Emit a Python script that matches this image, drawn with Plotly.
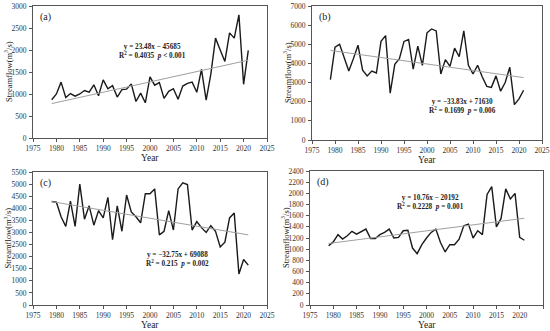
import plotly.graph_objects as go

years = list(range(1979, 2022))

flow_a = [870, 1000, 1270, 920, 1010, 950, 1000, 1080, 1040, 1210, 960, 1320, 1120, 1190, 930,
          1100, 1110, 1230, 830, 1020, 800, 1390, 1200, 1260, 900, 1060, 1120, 880, 1180, 1240,
          1270, 1040, 1560, 860, 1450, 2270, 2000, 1740, 2390, 2270, 2800, 1220, 1990]
flow_b = [3150, 4850, 5000, 4250, 3600, 4250, 4950, 3650, 3350, 3600, 3500, 5150, 5450, 2450, 3950,
          4250, 5150, 5250, 3700, 4900, 3900, 5600, 5800, 5700, 3450, 4200, 3850, 4800, 4350, 5700,
          3900, 3450, 3900, 3300, 2800, 2750, 3350, 2550, 3000, 3800, 1850, 2150, 2600]
flow_c = [4280, 4250, 3650, 3250, 4300, 3250, 5000, 3550, 4100, 3300, 3900, 3600, 4450, 2700, 4100,
          3050, 4550, 3850, 3650, 3400, 4600, 4600, 4800, 2900, 3050, 3900, 3100, 4800, 5050, 4980,
          3100, 3450, 3200, 3000, 3280, 3050, 2400, 2600, 3600, 3800, 1280, 1880, 1650]
flow_d = [1060, 1130, 1260, 1180, 1240, 1320, 1270, 1320, 1360, 1190, 1190, 1260, 1300, 1360, 1200,
          1210, 1330, 1340, 1020, 920, 1080, 1200, 1300, 1360, 1120, 950, 1080, 1080, 1180, 1420,
          1450, 1200, 1330, 1260, 1980, 2120, 1400, 1550, 2080, 1900, 2000, 1210, 1160]

slopes = [23.48, -33.83, -32.75, 10.76]
intercepts = [-45685, 71630, 69088, -20192]
eq_texts = ["y = 23.48x − 45685", "y = −33.83x + 71630", "y = −32.75x + 69088", "y = 10.76x − 20192"]
r2_texts = ["R<sup>2</sup> = 0.4035  <i>p</i> < 0.001", "R<sup>2</sup> = 0.1699  <i>p</i> = 0.006",
            "R<sup>2</sup> = 0.215  <i>p</i> = 0.002", "R<sup>2</sup> = 0.2228  <i>p</i> = 0.001"]
labels = ["(a)", "(b)", "(c)", "(d)"]
ymax = [3000, 7000, 5500, 2400]
ydtick = [500, 1000, 500, 200]
# annotation centre (year, value) for the equation block
eq_pos = [(2000.5, 1975), (2007.7, 1760), (2005.9, 1870), (2000.9, 1830)]

series = [flow_a, flow_b, flow_c, flow_d]

W, H = 550, 331
boxes = [(33, 267, 6, 138), (312, 542, 6, 140), (33, 267, 172, 305), (310, 543, 171, 305)]

FONT = "Liberation Serif, Times New Roman, serif"
fig = go.Figure()
layout = dict(width=W, height=H, margin=dict(l=0, r=0, t=0, b=0, autoexpand=False),
              paper_bgcolor="white", plot_bgcolor="white", showlegend=False,
              font=dict(family=FONT, color="#222"))
annotations = []
for i in range(4):
    n = "" if i == 0 else str(i + 1)
    xa, ya = "x" + n, "y" + n
    fig.add_trace(go.Scatter(x=years, y=series[i], mode="lines", xaxis=xa, yaxis=ya,
                             line=dict(color="#1a1a1a", width=1.4)))
    tx = [years[0], years[-1]]
    ty = [slopes[i] * t + intercepts[i] for t in tx]
    fig.add_trace(go.Scatter(x=tx, y=ty, mode="lines", xaxis=xa, yaxis=ya,
                             line=dict(color="#a0a0a0", width=1)))
    l, r, t, b = boxes[i]
    axcommon = dict(showline=True, linecolor="#555", linewidth=1, mirror=True, showgrid=False,
                    zeroline=False, ticks="outside", ticklen=3, tickcolor="#555", automargin=False,
                    tickfont=dict(size=7.5, family=FONT, color="#333"))
    layout["xaxis" + n] = dict(domain=[l / W, r / W], range=[1975, 2025], dtick=5, tick0=1975,
                               anchor=ya, **axcommon)
    layout["yaxis" + n] = dict(domain=[1 - b / H, 1 - t / H], range=[0, ymax[i]], dtick=ydtick[i],
                               anchor=xa, ticklabelstandoff=1, **axcommon)
    annotations.append(dict(text="Year", xref=xa + " domain", yref="paper", x=0.5,
                            y=1 - (b + 20) / H, yanchor="middle", showarrow=False,
                            font=dict(size=9.5, family=FONT, color="#222")))
    annotations.append(dict(text="Streamflow(m<sup>3</sup>/s)", xref="paper", yref=ya + " domain",
                            x=(l - 25) / W, y=0.5, textangle=-90, xanchor="center", showarrow=False,
                            font=dict(size=8.5, family=FONT, color="#222")))
    annotations.append(dict(text=labels[i], xref=xa + " domain", yref=ya + " domain", x=0.02, y=0.98,
                            xanchor="left", yanchor="top", showarrow=False,
                            font=dict(size=10, family=FONT, color="#222")))
    ex, ey = eq_pos[i]
    annotations.append(dict(text="<b>" + eq_texts[i] + "<br>" + r2_texts[i] + "</b>", xref=xa, yref=ya,
                            x=ex, y=ey, showarrow=False, align="center",
                            font=dict(size=7.2, family=FONT, color="#222")))
layout["annotations"] = annotations
fig.update_layout(**layout)
fig.write_html("out.html", config={"displayModeBar": False},
               post_script="document.body.style.margin='0';document.body.style.overflow='hidden';")
